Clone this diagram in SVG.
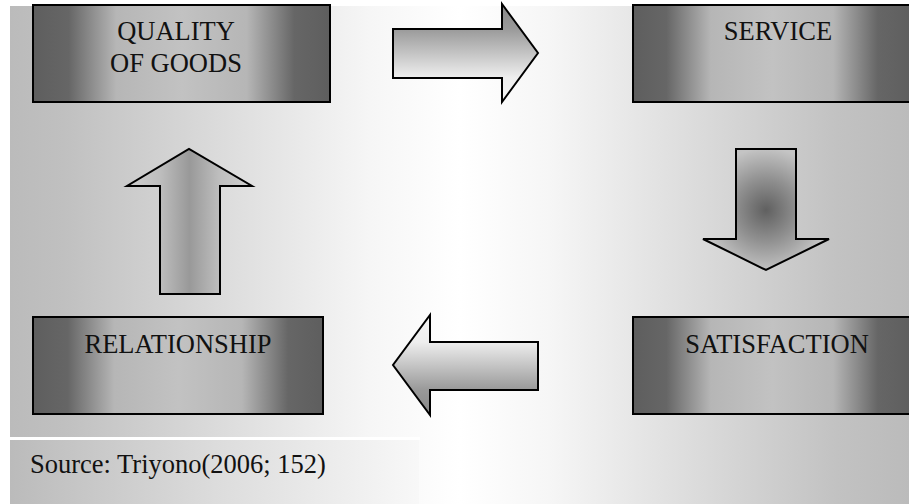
<svg xmlns="http://www.w3.org/2000/svg" width="909" height="504" viewBox="0 0 909 504">
  <defs>
    <linearGradient id="bg" x1="10" y1="0" x2="909" y2="0" gradientUnits="userSpaceOnUse">
      <stop offset="0" stop-color="#bbbbbb"/>
      <stop offset="0.06" stop-color="#c0c0c0"/>
      <stop offset="0.4" stop-color="#f6f6f6"/>
      <stop offset="0.5" stop-color="#ffffff"/>
      <stop offset="0.6" stop-color="#f6f6f6"/>
      <stop offset="0.92" stop-color="#c2c2c2"/>
      <stop offset="1" stop-color="#bbbbbb"/>
    </linearGradient>
    <linearGradient id="src" x1="0" y1="0" x2="1" y2="0">
      <stop offset="0" stop-color="#bbbbbb"/>
      <stop offset="0.5" stop-color="#dcdcdc"/>
      <stop offset="1" stop-color="#f8f8f8"/>
    </linearGradient>
    <linearGradient id="box" x1="0" y1="0" x2="1" y2="0">
      <stop offset="0" stop-color="#5e5e5e"/>
      <stop offset="0.12" stop-color="#666666"/>
      <stop offset="0.28" stop-color="#b6b6b6"/>
      <stop offset="0.5" stop-color="#c2c2c2"/>
      <stop offset="0.72" stop-color="#b6b6b6"/>
      <stop offset="0.88" stop-color="#666666"/>
      <stop offset="1" stop-color="#5e5e5e"/>
    </linearGradient>
    <linearGradient id="arrR" x1="0" y1="0" x2="0" y2="1">
      <stop offset="0" stop-color="#888888"/>
      <stop offset="0.25" stop-color="#999999"/>
      <stop offset="0.75" stop-color="#eeeeee"/>
      <stop offset="1" stop-color="#f5f5f5"/>
    </linearGradient>
    <linearGradient id="arrL" x1="0" y1="0" x2="0" y2="1">
      <stop offset="0" stop-color="#f5f5f5"/>
      <stop offset="0.27" stop-color="#eeeeee"/>
      <stop offset="0.75" stop-color="#999999"/>
      <stop offset="1" stop-color="#888888"/>
    </linearGradient>
    <linearGradient id="arrU" x1="0" y1="0" x2="1" y2="0">
      <stop offset="0" stop-color="#d0d0d0"/>
      <stop offset="0.27" stop-color="#bdbdbd"/>
      <stop offset="0.5" stop-color="#999999"/>
      <stop offset="0.73" stop-color="#bdbdbd"/>
      <stop offset="1" stop-color="#d0d0d0"/>
    </linearGradient>
    <radialGradient id="arrD" cx="766" cy="210" r="62" gradientUnits="userSpaceOnUse">
      <stop offset="0" stop-color="#606060"/>
      <stop offset="0.5" stop-color="#909090"/>
      <stop offset="1" stop-color="#c4c4c4"/>
    </radialGradient>
  </defs>
  <style>
    .node rect { fill: url(#box); stroke: #000; stroke-width: 2; }
    .lbl { font-family: "Liberation Serif", "DejaVu Serif", serif; font-size: 26.5px; fill: #111; text-anchor: middle; }
    .src { font-family: "Liberation Serif", "DejaVu Serif", serif; font-size: 26.5px; fill: #111; }
    .arrow { stroke: #000; stroke-width: 2; stroke-linejoin: miter; }
  </style>

  <rect x="0" y="0" width="909" height="504" fill="#ffffff"/>
  <rect x="10" y="6" width="899" height="498" fill="url(#bg)"/>
  <rect x="10" y="437" width="410" height="3" fill="#ffffff"/>
  <rect x="11" y="440" width="408" height="64" fill="url(#src)"/>

  <g id="connectors">
    <polygon class="arrow" fill="url(#arrR)" points="393,29 502,29 502,4 538,53 502,102 502,78 393,78"/>
    <polygon class="arrow" fill="url(#arrD)" points="736,149 796,149 796,239 829,239 766,270 703,239 736,239"/>
    <polygon class="arrow" fill="url(#arrL)" points="538,342 430,342 430,315 393,365 430,415 430,390 538,390"/>
    <polygon class="arrow" fill="url(#arrU)" points="160,294 160,186 127,186 189,149 252,186 220,186 220,294"/>
  </g>

  <g id="quality" class="node">
    <rect x="33" y="5" width="297" height="97"/>
    <text class="lbl" x="176" y="40">QUALITY</text>
    <text class="lbl" x="176" y="72">OF GOODS</text>
  </g>
  <g id="service" class="node">
    <rect x="633" y="5" width="278" height="97"/>
    <text class="lbl" x="778" y="40">SERVICE</text>
  </g>
  <g id="satisfaction" class="node">
    <rect x="633" y="317" width="278" height="97"/>
    <text class="lbl" x="777" y="353">SATISFACTION</text>
  </g>
  <g id="relationship" class="node">
    <rect x="33" y="317" width="290" height="97"/>
    <text class="lbl" x="178" y="353">RELATIONSHIP</text>
  </g>

  <text id="source" class="src" x="30" y="473">Source: Triyono(2006; 152)</text>
</svg>
